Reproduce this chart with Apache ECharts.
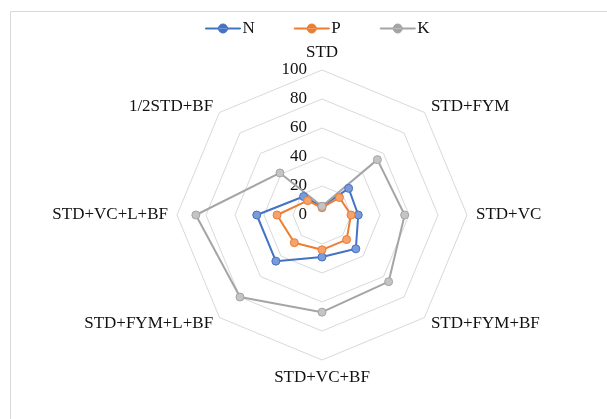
<!DOCTYPE html>
<html>
<head>
<meta charset="utf-8">
<script src="https://cdn.jsdelivr.net/npm/echarts@6/dist/echarts.min.js"></script>
<style>html,body{margin:0;padding:0;background:#fff;}#main{width:607px;height:419px;}</style>
</head>
<body>
<div id="main"></div>
<script>
// Categories in clockwise order starting from the top
var categories = ['STD', 'STD+FYM', 'STD+VC', 'STD+FYM+BF', 'STD+VC+BF', 'STD+FYM+L+BF', 'STD+VC+L+BF', '1/2STD+BF'];
var seriesNames = ['N', 'P', 'K'];
var valuesN = [6, 26, 25, 33, 29, 45, 45, 18];
var valuesP = [5, 17, 20, 24, 24, 27, 31, 14];
var valuesK = [6, 54, 57, 65, 67, 80, 87, 41];
var tickLabels = [0, 20, 40, 60, 80, 100];

// ECharts radar runs counter-clockwise; reorder so indicators go clockwise
var order = [0];
for (var i = categories.length - 1; i >= 1; i--) order.push(i);
function reorder(arr) { return order.map(function (k) { return arr[k]; }); }

var font = '"Liberation Serif", "Times New Roman", serif';
var lineColors = ['#4472C4', '#ED7D31', '#A5A5A5'];
var fillColors = ['#7B9BD8', '#F4A36E', '#C4C4C4'];
var allValues = [valuesN, valuesP, valuesK];

var indicator = reorder(categories).map(function (name, idx) {
  var ind = { name: name, min: tickLabels[0], max: tickLabels[tickLabels.length - 1] };
  if (idx === 0) {
    ind.axisLabel = {
      show: true, color: '#111', fontFamily: font, fontSize: 17, margin: 15
    };
  }
  return ind;
});

// legend icon: line with a circle marker in the middle
var legendIcon = 'path://M0,4 L35,4 L35,5 L0,5 Z M13,4.5 A4.5,4.5 0 1,0 22,4.5 A4.5,4.5 0 1,0 13,4.5 Z';

var chart = echarts.init(document.getElementById('main'), null, { renderer: 'canvas' });
chart.setOption({
  animation: false,
  backgroundColor: '#fff',
  graphic: [{
    type: 'rect', silent: true,
    shape: { x: 10.5, y: 11.5, width: 700, height: 500 },
    style: { fill: 'none', stroke: '#D9D9D9', lineWidth: 1 }
  }],
  legend: {
    data: seriesNames.map(function (n, s) {
      return {
        name: n, icon: legendIcon,
        itemStyle: { color: lineColors[s], borderColor: lineColors[s], borderWidth: 1 }
      };
    }),
    top: 15, left: 200,
    itemWidth: 35, itemHeight: 9, itemGap: 39,
    textStyle: { fontFamily: font, fontSize: 17, color: '#111', padding: [0, 0, 0, -3] }
  },
  radar: {
    center: [322, 215],
    radius: 145,
    startAngle: 90,
    splitNumber: tickLabels.length - 1,
    shape: 'polygon',
    axisName: { color: '#111', fontFamily: font, fontSize: 17 },
    nameGap: 9,
    axisLine: { show: false },
    axisTick: { show: false },
    axisLabel: { show: false },
    splitLine: { lineStyle: { color: '#D9D9D9', width: 1 } },
    splitArea: { show: false },
    indicator: indicator
  },
  series: seriesNames.map(function (name, s) {
    return {
      name: name,
      type: 'radar',
      symbol: 'circle',
      symbolSize: 8,
      lineStyle: { color: lineColors[s], width: 2 },
      itemStyle: { color: fillColors[s], borderColor: lineColors[s], borderWidth: 1 },
      data: [{ name: name, value: reorder(allValues[s]) }]
    };
  })
});
</script>
</body>
</html>
